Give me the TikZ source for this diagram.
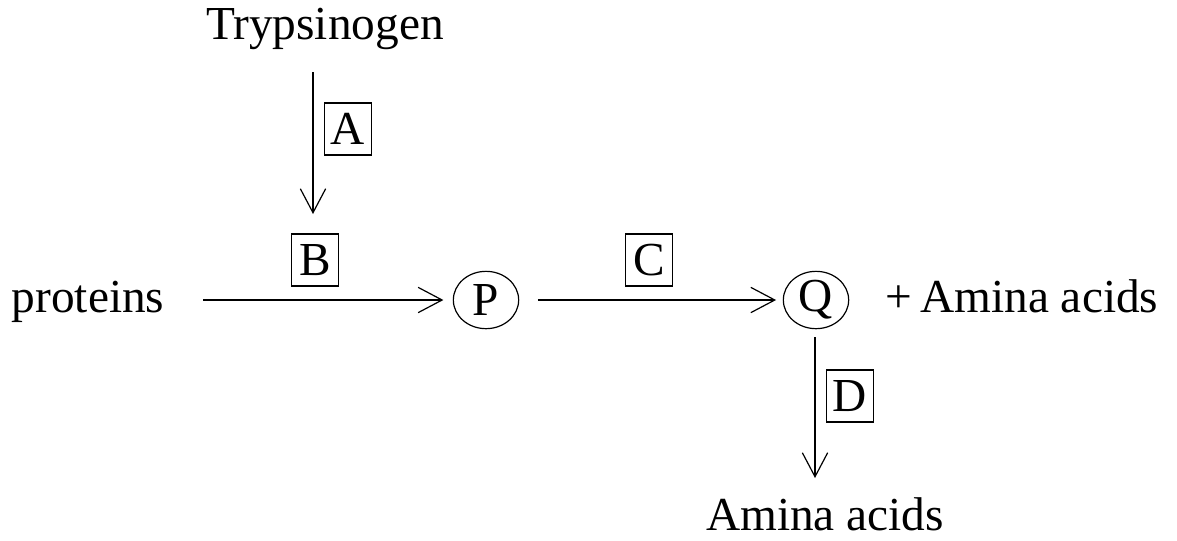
\documentclass[tikz,border=0pt]{standalone}
\usepackage{fontspec}
\setmainfont{Liberation Serif}
\usetikzlibrary{arrows.meta,shapes.geometric}
\tikzset{
  label text/.style={font=\fontsize{35.5}{40}\selectfont, inner sep=0pt, anchor=base},
  enzyme box/.style={draw, line width=0.9pt, font=\fontsize{35.5}{40}\selectfont,
    inner sep=0pt, minimum width=35pt, minimum height=39pt},
  product/.style={draw, ellipse, line width=0.9pt, font=\fontsize{35.5}{40}\selectfont,
    inner sep=0pt, minimum width=49pt, minimum height=43pt},
  flow/.style={line width=0.9pt, -{Straight Barb[length=18pt,width=19pt,line width=0.9pt]}}
}
\begin{document}
\begin{tikzpicture}[x=0.75pt,y=-0.75pt]
  \useasboundingbox (0,0) rectangle (1177,540);

  % substrates and products
  \node[label text] (tryp) at (325,39) {Trypsinogen};
  \node[label text] (prot) at (88,312) {proteins};
  \node[label text] (aa1) at (1022,312) {+\,Amina acids};
  \node[label text] (aa2) at (825,530) {Amina acids};

  % intermediates
  \node[product] (P) at (486,300) {P};
  \node[product] (Q) at (816,300) {Q};

  % enzyme labels
  \node[enzyme box] (A) at (348,129) {A};
  \node[enzyme box] (B) at (315,260) {B};
  \node[enzyme box] (C) at (649,260) {C};
  \node[enzyme box] (D) at (850,396) {D};

  % reaction arrows
  \coordinate (a0) at (313,72);
  \coordinate (a1) at (313,214);
  \draw[flow] (a0) -- (a1);

  \coordinate (b0) at (203,300);
  \draw[flow, shorten >=7pt] (b0) -- (P.west);
  \draw[flow, shorten <=14pt, shorten >=5pt] (P.east) -- (Q.west);

  \coordinate (d0) at (815,337);
  \coordinate (d1) at (815,478);
  \draw[flow] (d0) -- (d1);
\end{tikzpicture}
\end{document}
